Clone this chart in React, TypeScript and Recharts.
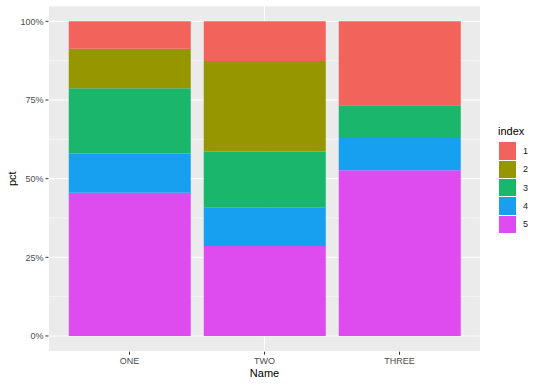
import { BarChart, Bar, XAxis, YAxis, CartesianGrid, Legend } from 'recharts'

// values, in percent of each bar
const names = ['ONE', 'TWO', 'THREE']
const index1 = [8.7, 12.6, 26.7]
const index2 = [12.6, 28.8, 0]
const index3 = [20.7, 17.7, 10.4]
const index4 = [12.5, 12.3, 10.2]
const index5 = [45.5, 28.6, 52.7]

const yTicks = [0, 0.25, 0.5, 0.75, 1]
const yMinor = [0.125, 0.375, 0.625, 0.875]
// category positions 0..n-1 for the vertical grid (discrete scale, 0.6 expansion)
const xCentres = names.map((_, i) => i)

const seriesKeys = ['5', '4', '3', '2', '1']
const seriesValues: Record<string, number[]> = {
  '1': index1,
  '2': index2,
  '3': index3,
  '4': index4,
  '5': index5,
}

const colors: Record<string, string> = {
  '1': '#F2635B',
  '2': '#969600',
  '3': '#19B66B',
  '4': '#17A0F0',
  '5': '#DE4BEE',
}

// each bar as shares of its total (position = "fill")
const data = names.map((name, i) => {
  const total = seriesKeys.reduce((s, k) => s + seriesValues[k][i], 0)
  const row: Record<string, string | number> = { name }
  seriesKeys.forEach((k) => {
    row[k] = seriesValues[k][i] / total
  })
  return row
})

const font = '"Liberation Sans", Arial, Helvetica, sans-serif'

// eslint-disable-next-line @typescript-eslint/no-explicit-any
function IndexLegend({ payload }: any) {
  const items = [...(payload ?? [])].sort((a, b) =>
    String(a.value).localeCompare(String(b.value))
  )
  return (
    <div style={{ fontFamily: font, color: '#000' }}>
      <div style={{ fontSize: 11, lineHeight: '14px', marginBottom: 3.7 }}>index</div>
      {items.map((it) => (
        <div key={it.value} style={{ display: 'flex', alignItems: 'center', height: 18.4 }}>
          <span
            style={{
              display: 'inline-block',
              width: 17.5,
              height: 17.5,
              marginLeft: 0.5,
              background: it.color,
            }}
          />
          <span style={{ marginLeft: 7, fontSize: 9, color: '#1a1a1a' }}>{it.value}</span>
        </div>
      ))}
    </div>
  )
}

export default function App() {
  return (
    <div style={{ position: 'absolute', left: 0, top: 0, width: 540, height: 386, background: '#fff' }}>
      <BarChart
        width={540}
        height={386}
        data={data}
        margin={{ top: 5.6, right: 17.5, left: 0, bottom: 0 }}
        barCategoryGap="5%"
        style={{ fontFamily: font }}
      >
        <CartesianGrid vertical={false} fill="#EBEBEB" stroke="#fff" strokeWidth={1.1} />
        <CartesianGrid yAxisId="minor" vertical={false} stroke="#fff" strokeWidth={0.55} />
        <CartesianGrid xAxisId="centres" horizontal={false} stroke="#fff" strokeWidth={1.1} />
        <XAxis
          dataKey="name"
          height={34.3}
          padding={{ left: 13.5, right: 13.5 }}
          axisLine={false}
          tickSize={3}
          tickMargin={3}
          tickLine={{ stroke: '#333' }}
          tick={{ fontSize: 9, fill: '#4D4D4D' }}
          label={{ value: 'Name', position: 'insideBottom', offset: 9, style: { fontSize: 11, fill: '#000' } }}
        />
        <XAxis
          xAxisId="centres"
          type="number"
          hide
          domain={[-0.6, names.length - 0.4]}
          ticks={xCentres}
          allowDataOverflow
        />
        <YAxis
          type="number"
          width={48.5}
          domain={[-0.05, 1.05]}
          ticks={yTicks}
          tickFormatter={(v: number) => `${Math.round(v * 100)}%`}
          axisLine={false}
          tickSize={3}
          tickMargin={2}
          tickLine={{ stroke: '#333' }}
          tick={{ fontSize: 9, fill: '#4D4D4D' }}
          label={{
            value: 'pct',
            angle: -90,
            position: 'insideLeft',
            offset: 12,
            style: { fontSize: 11, fill: '#000', textAnchor: 'middle' },
          }}
        />
        <YAxis
          yAxisId="minor"
          type="number"
          hide
          domain={[-0.05, 1.05]}
          ticks={yMinor}
          allowDataOverflow
        />
        {seriesKeys.map((k) => (
          <Bar key={k} dataKey={k} name={k} stackId="a" fill={colors[k]} isAnimationActive={false} />
        ))}
        <Legend
          layout="horizontal"
          verticalAlign="middle"
          align="right"
          content={<IndexLegend />}
          wrapperStyle={{ left: 498, top: 124, right: 'auto', width: 42 }}
        />
      </BarChart>
    </div>
  )
}
